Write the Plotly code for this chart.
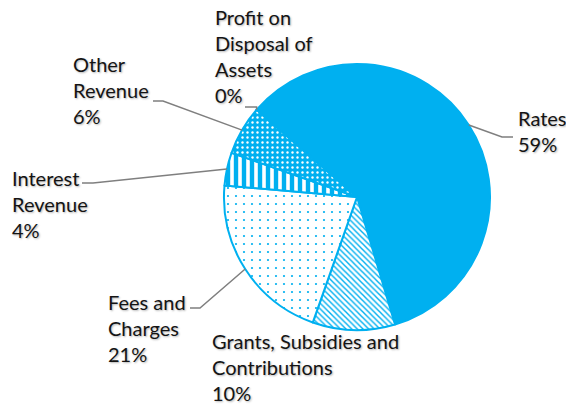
import math
import plotly.graph_objects as go

# ---- data ----
categories = ["Rates", "Grants, Subsidies and Contributions", "Fees and Charges",
              "Interest Revenue", "Other Revenue", "Profit on Disposal of Assets"]
label_lines = ["Rates", "Grants, Subsidies and<br>Contributions", "Fees and<br>Charges",
               "Interest<br>Revenue", "Other<br>Revenue", "Profit on<br>Disposal of<br>Assets"]
values = [59, 10, 21, 4, 6, 0]

BLUE = "#00B0F0"
GREY = "#7F7F7F"
W, H = 566, 408
CX, CY, R = 357, 197, 133
ROT = -49  # start angle, degrees clockwise from 12 o'clock

patterns = [
    dict(shape=""),
    dict(shape="\\", bgcolor="white", fgcolor=BLUE, size=4, solidity=0.35),
    dict(shape=".", bgcolor="white", fgcolor=BLUE, size=8, solidity=0.06),
    dict(shape="|", bgcolor="white", fgcolor=BLUE, size=8, solidity=0.55),
    dict(shape=".", bgcolor=BLUE, fgcolor="white", size=5, solidity=0.18),
    dict(shape=""),
]

fig = go.Figure()
fig.add_trace(go.Pie(
    labels=categories, values=values, sort=False, direction="clockwise",
    rotation=ROT, textinfo="none", hoverinfo="label+percent", showlegend=False,
    marker=dict(colors=[BLUE] * len(values), line=dict(color=BLUE, width=2),
                pattern=dict(
                    shape=[p.get("shape", "") for p in patterns],
                    bgcolor=[p.get("bgcolor", BLUE) for p in patterns],
                    fgcolor=[p.get("fgcolor", BLUE) for p in patterns],
                    size=[p.get("size", 8) for p in patterns],
                    solidity=[p.get("solidity", 0.3) for p in patterns],
                    fillmode="replace")),
    domain=dict(x=[(CX - R) / W, (CX + R) / W], y=[1 - (CY + R) / H, 1 - (CY - R) / H]),
))

# label layout: (text left x, text center y, elbow point, end point) in pixels
label_layout = [
    dict(x=516, y=131, elbow=(502, 137), end=(513, 137)),
    dict(x=210, y=367, elbow=None, end=None),
    dict(x=106, y=328, elbow=(200, 308), end=(190, 308)),
    dict(x=10, y=204, elbow=(93, 183), end=(82, 183)),
    dict(x=71, y=90, elbow=(163, 101), end=(153, 101)),
    dict(x=213, y=56, elbow=None, end=(245, 107)),
]

total = sum(values)
ang = ROT
shapes = []
annotations = []
for i, v in enumerate(values):
    span = 360 * v / total
    mid = ang + span / 2
    ang += span
    a = math.radians(mid)
    sx, sy = CX + R * math.sin(a), CY - R * math.cos(a)
    L = label_layout[i]
    pct = round(100 * v / total)
    annotations.append(dict(
        x=L["x"], y=L["y"], xref="x", yref="y", xanchor="left", yanchor="middle",
        text=f"{label_lines[i]}<br>{pct}%", showarrow=False, align="left",
        font=dict(family="Lato", size=20, color="#141414",
                  shadow="1px 1px 2px rgba(0,0,0,0.3)"),
    ))
    if L["end"] is not None:
        if L["elbow"] is not None:
            pts = [(sx, sy), L["elbow"], L["end"]]
        else:
            pts = [(sx, sy), (sx, L["end"][1]), L["end"]]
        path = "M " + " L ".join(f"{px:.1f},{py:.1f}" for px, py in pts)
        shapes.append(dict(type="path", path=path, xref="x", yref="y",
                           line=dict(color=GREY, width=1.5)))

fig.update_layout(
    width=W, height=H, margin=dict(l=0, r=0, t=0, b=0),
    paper_bgcolor="white", plot_bgcolor="rgba(0,0,0,0)",
    xaxis=dict(range=[0, W], visible=False, fixedrange=True),
    yaxis=dict(range=[H, 0], visible=False, fixedrange=True),
    shapes=shapes, annotations=annotations,
)

fig.write_html("out.html", config={"displayModeBar": False},
               post_script="document.body.style.margin='0';")
